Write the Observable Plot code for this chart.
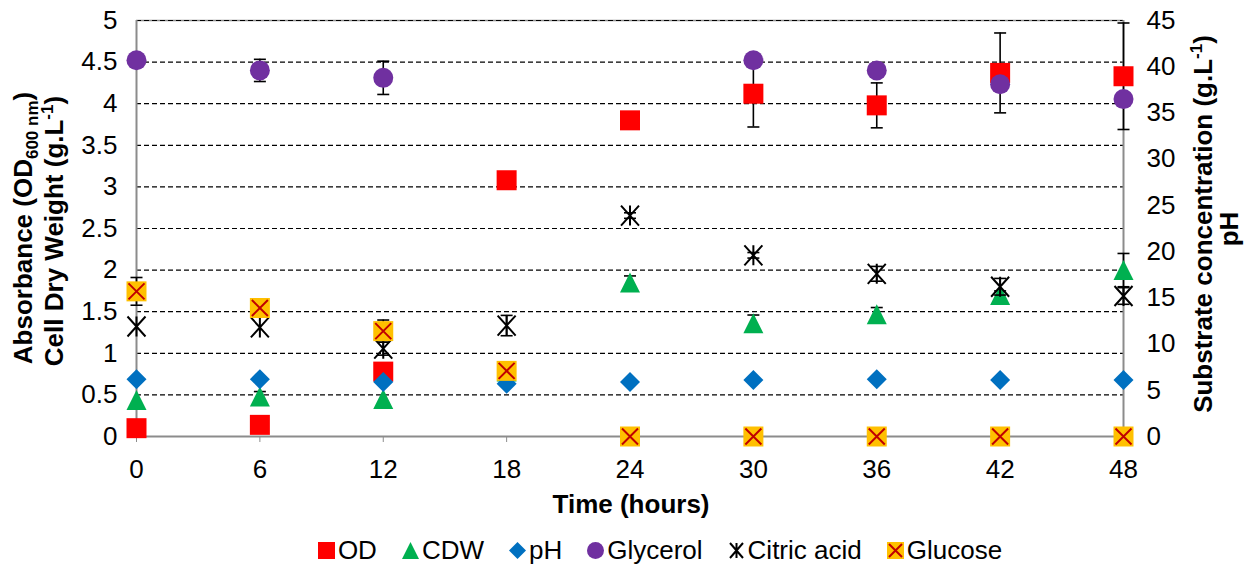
<!DOCTYPE html>
<html><head><meta charset="utf-8">
<script src="https://cdn.jsdelivr.net/npm/d3@7"></script>
<script src="https://cdn.jsdelivr.net/npm/@observablehq/plot@0.6"></script>
<style>
html,body{margin:0;padding:0;background:#fff;}
body{width:1257px;height:567px;overflow:hidden;font-family:"Liberation Sans",Arial,sans-serif;}
#chart svg{display:block;}
#legend{display:flex;align-items:center;justify-content:center;height:50px;padding-left:63px;font-size:26px;color:#000;}
#legend .item{display:flex;align-items:center;margin-right:25px;}
#legend .item:last-child{margin-right:0;}
#legend svg{margin-right:3px;display:block;}
</style></head>
<body><div id="chart"></div><div id="legend"></div>
<script>
// ---- data ----
const time = [0, 6, 12, 18, 24, 30, 36, 42, 48];
// left axis (Absorbance / CDW)
const od      = [0.10, 0.14, 0.78, 3.08, 3.80, 4.12, 3.98, 4.37, 4.33];
const odErr   = [0, 0, 0, 0, 0, 0.40, 0.27, 0.48, 0.64];
const cdw     = [0.44, 0.48, 0.45, 0.78, 1.85, 1.36, 1.47, 1.70, 2.00];
const cdwErr  = [0, 0.06, 0, 0, 0.08, 0.10, 0.08, 0.05, 0.20];
// right axis (substrate g/L, pH)
const ph          = [6.2, 6.2, 5.9, 5.7, 5.9, 6.1, 6.2, 6.1, 6.1];
const glycerol    = [40.7, 39.6, 38.8, null, null, 40.7, 39.6, 38.1, 36.5];
const glycerolErr = [0, 1.2, 1.8, 0, 0, 0, 0, 0, 0];
const citric      = [11.9, 11.8, 9.5, 12.0, 23.9, 19.6, 17.6, 16.2, 15.2];
const citricErr   = [0, 0, 0.7, 1.1, 0.3, 0.3, 0.8, 0.9, 0.9];
const glucose     = [15.7, 13.9, 11.4, 7.1, 0, 0, 0, 0, 0];
const glucoseErr  = [1.5, 0, 1.2, 0, 0, 0, 0, 0, 0];
const leftTicks  = [0, 0.5, 1, 1.5, 2, 2.5, 3, 3.5, 4, 4.5, 5];
const rightTicks = [0, 5, 10, 15, 20, 25, 30, 35, 40, 45];
const seriesNames = ["OD", "CDW", "pH", "Glycerol", "Citric acid", "Glucose"];

const LEFT_MAX = 5, RIGHT_MAX = 45, K = RIGHT_MAX / LEFT_MAX;
const FS = 26;

// ---- custom marker symbols ----
const rOf = s => Math.sqrt(s / Math.PI);
const sym = {
  square:   {draw(c, s) { const r = rOf(s); c.rect(-r, -r, 2 * r, 2 * r); }},
  triangle: {draw(c, s) { const r = rOf(s); c.moveTo(0, -r); c.lineTo(r, r); c.lineTo(-r, r); c.closePath(); }},
  diamond:  {draw(c, s) { const r = rOf(s); c.moveTo(0, -r); c.lineTo(r, 0); c.lineTo(0, r); c.lineTo(-r, 0); c.closePath(); }},
  star:     {draw(c, s) { const r = rOf(s), a = 0.9 * r; c.moveTo(-a, -r); c.lineTo(a, r); c.moveTo(a, -r); c.lineTo(-a, r); c.moveTo(0, -r); c.lineTo(0, r); }},
  times:    {draw(c, s) { const r = rOf(s); c.moveTo(-r, -r); c.lineTo(r, r); c.moveTo(r, -r); c.lineTo(-r, r); }},
  cap:      {draw(c, s) { const r = rOf(s); c.moveTo(-r, 0); c.lineTo(r, 0); }}
};

function rows(values, errs, scale) {
  return time.map((t, i) => ({t, v: values[i] == null ? null : values[i] / scale, e: errs ? errs[i] / scale : 0}))
             .filter(d => d.v != null);
}
function errorMarks(data) {
  const d = data.filter(r => r.e > 0);
  return [
    Plot.ruleX(d, {x: "t", y1: r => r.v - r.e, y2: r => r.v + r.e, stroke: "#000", strokeWidth: 1.6}),
    Plot.dot(d, {x: "t", y: r => r.v + r.e, symbol: sym.cap, r: 6, stroke: "#000", strokeWidth: 1.6, fill: "none"}),
    Plot.dot(d, {x: "t", y: r => r.v - r.e, symbol: sym.cap, r: 6, stroke: "#000", strokeWidth: 1.6, fill: "none"})
  ];
}

const odRows = rows(od, odErr, 1);
const cdwRows = rows(cdw, cdwErr, 1);
const phRows = rows(ph, null, K);
const glyRows = rows(glycerol, glycerolErr, K);
const citRows = rows(citric, citricErr, K);
const gluRows = rows(glucose, glucoseErr, K);

const W = 1257, H = 525;
const chart = Plot.plot({
  width: W, height: H,
  marginLeft: 136, marginRight: 134, marginTop: 20, marginBottom: H - 436,
  style: {fontFamily: "'Liberation Sans', Arial, sans-serif", fontSize: FS + "px", color: "#000", background: "#fff", overflow: "visible"},
  x: {domain: [0, 48]},
  y: {domain: [0, LEFT_MAX]},
  marks: [
    Plot.ruleY([LEFT_MAX], {stroke: "#8c8c8c", strokeWidth: 1.5}),
    Plot.ruleY(leftTicks.filter(v => v > 0), {stroke: "#000", strokeWidth: 1.2, strokeDasharray: "5,3"}),
    Plot.ruleY([0], {stroke: "#8c8c8c", strokeWidth: 2}),
    Plot.ruleX([0, 48], {stroke: "#8c8c8c", strokeWidth: 2}),
    Plot.axisX({ticks: time, tickSize: 6, tickPadding: 17, fontSize: FS, stroke: "#8c8c8c", label: null, tickFormat: d => String(d)}),
    Plot.axisY({anchor: "left", ticks: leftTicks, tickSize: 0, tickPadding: 19, fontSize: FS, label: null, tickFormat: d => String(+d.toFixed(1))}),
    Plot.axisY({anchor: "right", ticks: rightTicks.map(v => v / K), tickSize: 0, tickPadding: 23, fontSize: FS, label: null, tickFormat: d => String(Math.round(d * K))}),
    // OD
    ...errorMarks(odRows),
    Plot.dot(odRows, {x: "t", y: "v", symbol: sym.square, r: 10, fill: "#FF0000"}),
    // CDW
    ...errorMarks(cdwRows),
    Plot.dot(cdwRows, {x: "t", y: "v", symbol: sym.triangle, r: 10, fill: "#00B050"}),
    // pH
    Plot.dot(phRows, {x: "t", y: "v", symbol: sym.diamond, r: 10, fill: "#0070C0"}),
    // Glycerol
    ...errorMarks(glyRows),
    Plot.dot(glyRows, {x: "t", y: "v", symbol: "circle", r: 10, fill: "#7030A0"}),
    // Citric acid
    ...errorMarks(citRows),
    Plot.dot(citRows, {x: "t", y: "v", symbol: sym.star, r: 10, fill: "none", stroke: "#000", strokeWidth: 2}),
    // Glucose
    ...errorMarks(gluRows),
    Plot.dot(gluRows, {x: "t", y: "v", symbol: sym.square, r: 10, fill: "#FFC000"}),
    Plot.dot(gluRows, {x: "t", y: "v", symbol: sym.times, r: 8, fill: "none", stroke: "#C00000", strokeWidth: 2})
  ]
});
document.getElementById("chart").appendChild(chart);

// ---- axis titles with sub/superscripts ----
const svg = d3.select(chart);
function title(x, y, parts, rotate) {
  const t = svg.append("text")
    .attr("transform", rotate ? `translate(${x},${y}) rotate(-90)` : `translate(${x},${y})`)
    .attr("text-anchor", "middle").attr("font-weight", "bold").attr("font-size", FS).attr("fill", "#000");
  parts.forEach(p => {
    const ts = t.append("tspan").text(p.text);
    if (p.dy) ts.attr("dy", p.dy);
    if (p.size) ts.attr("font-size", p.size);
  });
}
title(32, 228, [{text: "Absorbance (OD"}, {text: "600 nm", dy: 6, size: 17}, {text: ")", dy: -6}], true);
title(63, 231, [{text: "Cell Dry Weight (g.L"}, {text: "-1", dy: -10, size: 17}, {text: ")", dy: 10}], true);
title(1212, 224, [{text: "Substrate concentration (g.L"}, {text: "-1", dy: -10, size: 17}, {text: ")", dy: 10}], true);
title(1238, 229, [{text: "pH"}], true);
title(631, 513, [{text: "Time (hours)"}], false);

// ---- legend ----
const legendSyms = [
  {name: seriesNames[0], draw: s => `<rect x="0" y="0" width="${s}" height="${s}" fill="#FF0000"/>`},
  {name: seriesNames[1], draw: s => `<path d="M${s/2},0L${s},${s}L0,${s}Z" fill="#00B050"/>`},
  {name: seriesNames[2], draw: s => `<path d="M${s/2},0L${s},${s/2}L${s/2},${s}L0,${s/2}Z" fill="#0070C0"/>`},
  {name: seriesNames[3], draw: s => `<circle cx="${s/2}" cy="${s/2}" r="${s/2}" fill="#7030A0"/>`},
  {name: seriesNames[4], draw: s => `<path d="M2,1L${s-2},${s-1}M${s-2},1L2,${s-1}M${s/2},1L${s/2},${s-1}" stroke="#000" stroke-width="2" fill="none"/>`},
  {name: seriesNames[5], draw: s => `<rect x="0" y="0" width="${s}" height="${s}" fill="#FFC000"/><path d="M2,2L${s-2},${s-2}M${s-2},2L2,${s-2}" stroke="#C00000" stroke-width="2" fill="none"/>`}
];
const leg = document.getElementById("legend");
legendSyms.forEach(d => {
  const el = document.createElement("div");
  el.className = "item";
  el.innerHTML = `<svg width="17" height="17" viewBox="0 0 17 17">${d.draw(17)}</svg><span>${d.name}</span>`;
  leg.appendChild(el);
});
</script>
</body></html>
